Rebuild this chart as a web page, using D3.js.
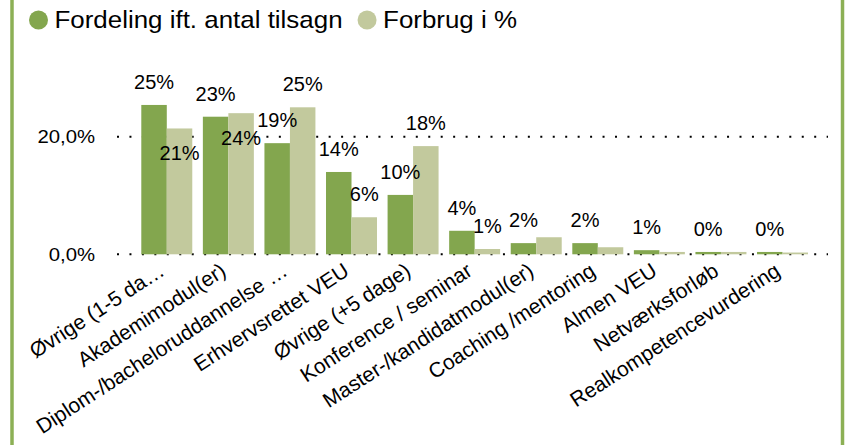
<!DOCTYPE html>
<html><head><meta charset="utf-8">
<script src="https://cdn.jsdelivr.net/npm/d3@7"></script>
<style>
html,body{margin:0;padding:0;background:#fff;}
svg{display:block;font-family:Arial,"Liberation Sans",sans-serif;}
</style></head>
<body>
<svg id="chart" width="854" height="445"></svg>
<script>
const categories = ["Øvrige (1-5 da…", "Akademimodul(er)", "Diplom-/bacheloruddannelse …", "Erhvervsrettet VEU", "Øvrige (+5 dage)", "Konference / seminar", "Master-/kandidatmodul(er)", "Coaching /mentoring", "Almen VEU", "Netværksforløb", "Realkompetencevurdering"];
const seriesNames = ["Fordeling ift. antal tilsagn", "Forbrug i %"];
const fordeling = [25.4, 23.4, 18.9, 14.0, 10.1, 4.0, 1.9, 1.9, 0.7, 0.4, 0.4];
const forbrug = [21.4, 24.0, 25.0, 6.3, 18.4, 0.9, 2.9, 1.2, 0.4, 0.4, 0.3];
const fordelingLabels = ["25%", "23%", "19%", "14%", "10%", "4%", "2%", "2%", "1%", "0%", "0%"];
const forbrugLabels = ["21%", "24%", "25%", "6%", "18%", "1%", null, null, null, null, null];
const yTicks = [0, 20];

const colors = ["#83a64e", "#c2c99d"];
const svg = d3.select("#chart");

// frame
svg.append("rect").attr("x", 12).attr("y", -10).attr("width", 830.5).attr("height", 470)
  .attr("fill", "none").attr("stroke", "#8cb055").attr("stroke-width", 3.5);

const x = d3.scaleBand().domain(categories).range([136, 813.3]).paddingInner(0.172).paddingOuter(0.086);
const xs = d3.scaleBand().domain([0, 1]).range([0, x.bandwidth()]);
const y = d3.scaleLinear().domain([0, 20]).range([254.3, 136.7]);

const loc = d3.formatLocale({decimal: ",", thousands: ".", grouping: [3], currency: ["", " kr"]});
const fmt = v => loc.format(".1f")(v) + "%";

// gridlines
svg.append("g").selectAll("line").data(yTicks).join("line")
  .attr("x1", 117).attr("x2", 828)
  .attr("y1", d => y(d)).attr("y2", d => y(d))
  .attr("stroke", "#000").attr("stroke-width", 2).attr("stroke-dasharray", "2 10.45");

// y tick labels
svg.append("g").selectAll("text").data(yTicks).join("text")
  .attr("transform", d => `translate(95,${y(d) + 6.5}) scale(1.13,1)`)
  .attr("text-anchor", "end").attr("font-size", 18).attr("fill", "#000")
  .text(d => fmt(d));

// bars
const seriesData = [fordeling, forbrug];
seriesData.forEach((vals, si) => {
  svg.append("g").selectAll("rect").data(vals).join("rect")
    .attr("x", (d, i) => x(categories[i]) + xs(si))
    .attr("width", xs.bandwidth())
    .attr("y", d => y(d))
    .attr("height", d => y(0) - y(d))
    .attr("fill", colors[si]);
});

// value labels with simple collision avoidance
const placed = [];
const lblG = svg.append("g").attr("font-size", 20).attr("fill", "#000").attr("text-anchor", "middle");
function boxOf(cx, base, w) { return {x0: cx - w / 2, x1: cx + w / 2, y0: base - 15, y1: base}; }
function overlaps(a, b) { return a.x0 < b.x1 && a.x1 > b.x0 && a.y0 < b.y1 && a.y1 > b.y0; }
fordeling.forEach((v, i) => {
  const cx = x(categories[i]) + xs(0) + xs.bandwidth() / 2;
  const base = y(v) - 16;
  const t = lblG.append("text").attr("x", cx).attr("y", base).text(fordelingLabels[i]);
  placed.push(boxOf(cx, base, t.node().getComputedTextLength()));
});
forbrug.forEach((v, i) => {
  if (!forbrugLabels[i]) return;
  const cx = x(categories[i]) + xs(1) + xs.bandwidth() / 2;
  let base = y(v) - 16;
  const t = lblG.append("text").attr("x", cx).attr("y", base).text(forbrugLabels[i]);
  const b = boxOf(cx, base, t.node().getComputedTextLength());
  if (placed.some(p => overlaps(p, b))) { base = y(v) + 32; t.attr("y", base); }
  placed.push(boxOf(cx, base, t.node().getComputedTextLength()));
});

// category labels
svg.append("g").selectAll("text").data(categories).join("text")
  .attr("transform", d => `translate(${x(d) + x.bandwidth() / 2 - 1},${y(0) + 20}) rotate(-33)`)
  .attr("text-anchor", "end").attr("font-size", 21).attr("fill", "#000")
  .text(d => d);

// legend
const leg = svg.append("g");
let lx = 38.5;
seriesNames.forEach((name, i) => {
  leg.append("circle").attr("cx", lx).attr("cy", 20).attr("r", 9.5).attr("fill", colors[i]);
  const t = leg.append("text").attr("transform", `translate(${lx + 16},27.5) scale(1.08,1)`)
    .attr("font-size", 24).attr("fill", "#000").text(name);
  const w = t.node().getComputedTextLength() * 1.08;
  lx = lx + 16 + w + 24.5;
});
</script>
</body></html>
